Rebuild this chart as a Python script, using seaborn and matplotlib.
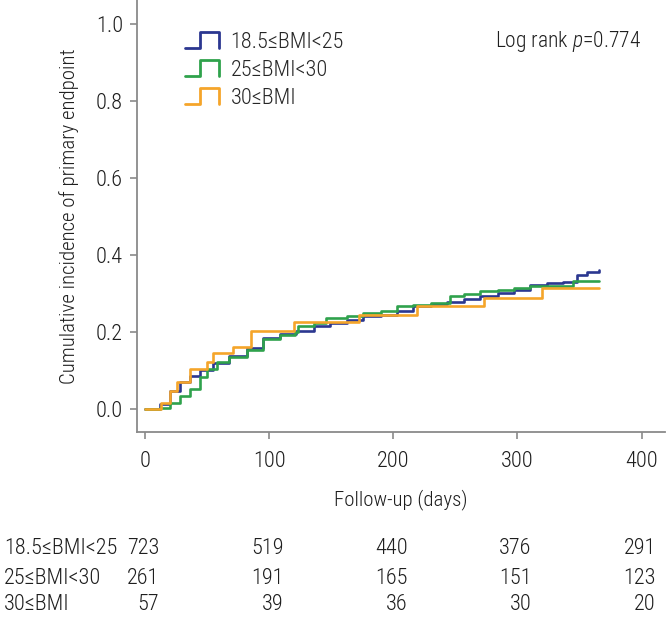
import numpy as np
import pandas as pd
import matplotlib
matplotlib.use("Agg")
import matplotlib.pyplot as plt
import matplotlib.transforms as mtransforms
from matplotlib import font_manager as fm
from matplotlib.legend_handler import HandlerBase
from matplotlib.lines import Line2D
import seaborn as sns

# Data
groups = ["18.5≤BMI<25", "25≤BMI<30", "30≤BMI"]
colors = ["#2b3790", "#2fa24c", "#f5a52a"]

blue_days = [0, 12, 20, 28, 36, 44, 55, 68, 82, 95, 109, 122, 136, 149, 163, 176,
             190, 203, 216, 230, 243, 257, 270, 284, 297, 310, 324, 337, 348, 356, 366]
blue_inc = [0, .015, .048, .071, .087, .103, .120, .139, .158, .184, .196, .204, .216,
            .224, .233, .243, .246, .256, .268, .274, .278, .287, .293, .302, .311,
            .322, .329, .330, .348, .356, .363]

green_days = [0, 12, 20, 28, 36, 44, 50, 58, 68, 82, 95, 109, 121, 123, 136, 146, 163,
              176, 190, 203, 216, 230, 246, 257, 270, 284, 297, 310, 345, 366]
green_inc = [0, .004, .016, .035, .052, .083, .104, .122, .135, .154, .183, .193, .200,
             .216, .224, .237, .243, .250, .256, .268, .271, .276, .295, .300, .306,
             .311, .315, .320, .332, .332]

orange_days = [0, 13, 20, 26, 36, 50, 55, 71, 85, 120, 172, 219, 273, 320, 366]
orange_inc = [0, .017, .048, .070, .106, .124, .145, .163, .204, .226, .246, .268,
              .289, .315, .315]

risk_times = [0, 100, 200, 300, 400]
risk_blue = [723, 519, 440, 376, 291]
risk_green = [261, 191, 165, 151, 123]
risk_orange = [57, 39, 36, 30, 20]

df = pd.concat([
    pd.DataFrame({"day": blue_days, "inc": blue_inc, "group": groups[0]}),
    pd.DataFrame({"day": green_days, "inc": green_inc, "group": groups[1]}),
    pd.DataFrame({"day": orange_days, "inc": orange_inc, "group": groups[2]}),
])

sns.set_style("white")

# pick a condensed font if one is installed
entries = fm.fontManager.ttflist
names = {f.name for f in entries}
font = None
stretch = "normal"
for cand in ["Roboto Condensed", "Liberation Sans Narrow", "Open Sans Condensed",
             "Noto Sans Condensed", "DejaVu Sans Condensed"]:
    if cand in names:
        font = cand
        break
if font is None:
    if any(f.name == "DejaVu Sans" and f.stretch == "condensed" for f in entries):
        font, stretch = "DejaVu Sans", "condensed"
    else:
        font = "Roboto"
plt.rcParams["font.family"] = [font, "DejaVu Sans"]
plt.rcParams["font.stretch"] = stretch
plt.rcParams["font.weight"] = "light"
plt.rcParams["axes.labelweight"] = "light"
plt.rcParams["mathtext.fontset"] = "custom"
plt.rcParams["mathtext.rm"] = font + ":light"
plt.rcParams["mathtext.it"] = font + ":italic:light"

fs = 16 if font != "Roboto" else 14.5
lab_fs = fs - 1
txt = "#1e1e1e"

fig = plt.figure(figsize=(6.69, 6.19), dpi=100)
ax = fig.add_axes([0.2048, 0.3026, 0.789, 0.697])

sns.lineplot(data=df, x="day", y="inc", hue="group", palette=colors,
             estimator=None, drawstyle="steps-post", linewidth=1.9, ax=ax, legend=False)

ax.set_xlim(-6.4, 418.7)
ax.set_ylim(-0.058, 1.062)
ax.set_xticks(risk_times)
ax.set_yticks([0, 0.2, 0.4, 0.6, 0.8, 1.0])
ax.set_yticklabels(["0.0", "0.2", "0.4", "0.6", "0.8", "1.0"])
for s in ["top", "right"]:
    ax.spines[s].set_visible(False)
for s in ["left", "bottom"]:
    ax.spines[s].set_color("#8a8a8a")
    ax.spines[s].set_linewidth(1.3)
ax.tick_params(axis="both", colors="#8a8a8a", length=5, width=1.2, labelcolor=txt,
               labelsize=fs)
ax.tick_params(axis="x", pad=9, bottom=True)
ax.tick_params(axis="y", pad=5, left=True)
ax.set_xlabel("Follow-up (days)", fontsize=lab_fs, color=txt, labelpad=12,
              fontweight="light")
ax.set_ylabel("Cumulative incidence of primary endpoint", fontsize=lab_fs,
              color=txt, labelpad=12, fontweight="light")


class StepHandler(HandlerBase):
    def create_artists(self, legend, orig_handle, xdescent, ydescent, width, height,
                       fontsize, trans):
        x0, y0 = -xdescent, -ydescent
        h = height * 1.0
        xs = [x0, x0 + 0.42 * width, x0 + 0.42 * width, x0 + width, x0 + width]
        ys = [y0, y0, y0 + h, y0 + h, y0]
        ln = Line2D(xs, ys, color=orig_handle.get_color(), lw=2)
        ln.set_transform(trans)
        return [ln]


handles = [Line2D([], [], color=c) for c in colors]
ax.legend(handles, groups, handler_map={Line2D: StepHandler()}, loc="upper left",
          bbox_to_anchor=(0.091, 0.927), frameon=False, fontsize=fs,
          handlelength=1.55, handletextpad=0.5, labelspacing=0.32, borderpad=0,
          borderaxespad=0)

ax.text(282, 0.954, r"Log rank $p$=0.774", fontsize=fs - 0.5, color=txt,
        va="center", ha="left")

# number at risk table
trans = mtransforms.blended_transform_factory(ax.transData, fig.transFigure)
row_y = [1 - 549 / 619, 1 - 578 / 619, 1 - 605 / 619]
for lab, counts, yy in zip(groups, [risk_blue, risk_green, risk_orange], row_y):
    fig.text(4 / 669, yy, lab, fontsize=fs, color=txt, va="center", ha="left")
    for t, n in zip(risk_times, counts):
        ax.text(t + 11.5, yy, str(n), transform=trans, fontsize=fs, color=txt,
                va="center", ha="right", clip_on=False)

fig.savefig("out.png", dpi=100)
